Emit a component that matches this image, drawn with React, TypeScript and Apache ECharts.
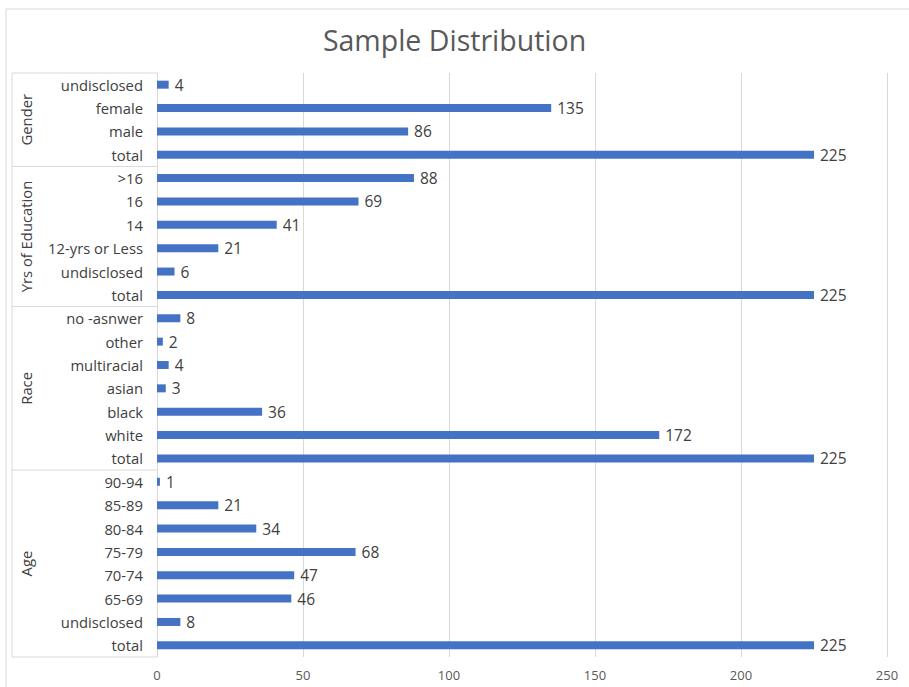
import React, { useEffect, useRef } from "react";
import * as echarts from "echarts";

const groupNames = ["Gender", "Yrs of Education", "Race", "Age"];
const genderCats = ["undisclosed", "female", "male", "total"];
const genderValues = [4, 135, 86, 225];
const eduCats = [">16", "16", "14", "12-yrs or Less", "undisclosed", "total"];
const eduValues = [88, 69, 41, 21, 6, 225];
const raceCats = ["no -asnwer", "other", "multiracial", "asian", "black", "white", "total"];
const raceValues = [8, 2, 4, 3, 36, 172, 225];
const ageCats = ["90-94", "85-89", "80-84", "75-79", "70-74", "65-69", "undisclosed", "total"];
const ageValues = [1, 21, 34, 68, 47, 46, 8, 225];
const xTicks = { min: 0, max: 250, interval: 50 };

const FONT = "'Open Sans', 'Noto Sans', sans-serif";

export default function App() {
  const ref = useRef<HTMLDivElement>(null);
  useEffect(() => {
    if (!ref.current) return;
    const chart = echarts.init(ref.current, null, { renderer: "svg" });
    const groupCats = [genderCats, eduCats, raceCats, ageCats];
    const groupVals = [genderValues, eduValues, raceValues, ageValues];
    const keys: string[] = [];
    const values: number[] = [];
    const groupRanges: { name: string; start: number; end: number }[] = [];
    groupCats.forEach((cats, g) => {
      const start = keys.length;
      cats.forEach((c, i) => {
        keys.push(groupNames[g] + "|" + c);
        values.push(groupVals[g][i]);
      });
      groupRanges.push({ name: groupNames[g], start, end: keys.length - 1 });
    });

    const gridLeft = 157;
    chart.setOption({
      animation: false,
      backgroundColor: "#ffffff",
      title: {
        text: "Sample Distribution",
        left: "center",
        top: 20,
        textStyle: { fontFamily: FONT, fontSize: 28.5, fontWeight: "normal", color: "#595959" },
      },
      grid: { left: gridLeft, right: 22, top: 73, bottom: 30, containLabel: false },
      xAxis: {
        type: "value",
        min: xTicks.min,
        max: xTicks.max,
        interval: xTicks.interval,
        axisLine: { show: false },
        axisTick: { show: false },
        splitLine: { show: true, lineStyle: { color: "#d9d9d9", width: 1 } },
        axisLabel: { color: "#595959", fontFamily: FONT, fontSize: 13, margin: 11 },
      },
      yAxis: {
        type: "category",
        inverse: true,
        data: keys,
        axisLine: { show: false },
        axisTick: { show: false },
        axisLabel: {
          color: "#404040",
          fontFamily: FONT,
          fontSize: 14.8,
          margin: 14,
          interval: 0,
          formatter: (v: string) => v.split("|")[1],
        },
      },
      series: [
        {
          type: "bar",
          data: values,
          barWidth: 8,
          itemStyle: { color: "#4472C4" },
          label: {
            show: true,
            position: "right",
            distance: 6,
            color: "#404040",
            fontFamily: FONT,
            fontSize: 15.5,
          },
        },
      ],
    });

    const yPix = (i: number) => chart.convertToPixel({ yAxisIndex: 0 }, i) as number;
    const band = Math.abs(yPix(1) - yPix(0));
    const lineColor = "#d9d9d9";
    const boxLeft = 12;
    const graphics: any[] = [
      {
        type: "rect",
        shape: { x: 6, y: 9, width: 950, height: 720 },
        style: { fill: "none", stroke: lineColor, lineWidth: 1 },
        silent: true,
      },
    ];
    const top = yPix(0) - band / 2;
    const bottom = yPix(keys.length - 1) + band / 2;
    graphics.push({
      type: "line",
      shape: { x1: boxLeft, y1: top, x2: boxLeft, y2: bottom },
      style: { stroke: lineColor, lineWidth: 1 },
      silent: true,
    });
    graphics.push({
      type: "line",
      shape: { x1: boxLeft, y1: top, x2: gridLeft, y2: top },
      style: { stroke: lineColor, lineWidth: 1 },
      silent: true,
    });
    groupRanges.forEach((r) => {
      const yEnd = yPix(r.end) + band / 2;
      const yStart = yPix(r.start) - band / 2;
      graphics.push({
        type: "line",
        shape: { x1: boxLeft, y1: yEnd, x2: gridLeft, y2: yEnd },
        style: { stroke: lineColor, lineWidth: 1 },
        silent: true,
      });
      graphics.push({
        type: "text",
        x: 26,
        y: (yStart + yEnd) / 2,
        rotation: Math.PI / 2,
        style: {
          text: r.name,
          fill: "#404040",
          font: "14.8px " + FONT,
          textAlign: "center",
          textVerticalAlign: "middle",
          align: "center",
          verticalAlign: "middle",
        },
        silent: true,
      });
    });
    chart.setOption({ graphic: graphics });

    return () => chart.dispose();
  }, []);
  return (
    <div
      ref={ref}
      style={{ position: "absolute", left: 0, top: 0, width: 909, height: 687 }}
    />
  );
}
